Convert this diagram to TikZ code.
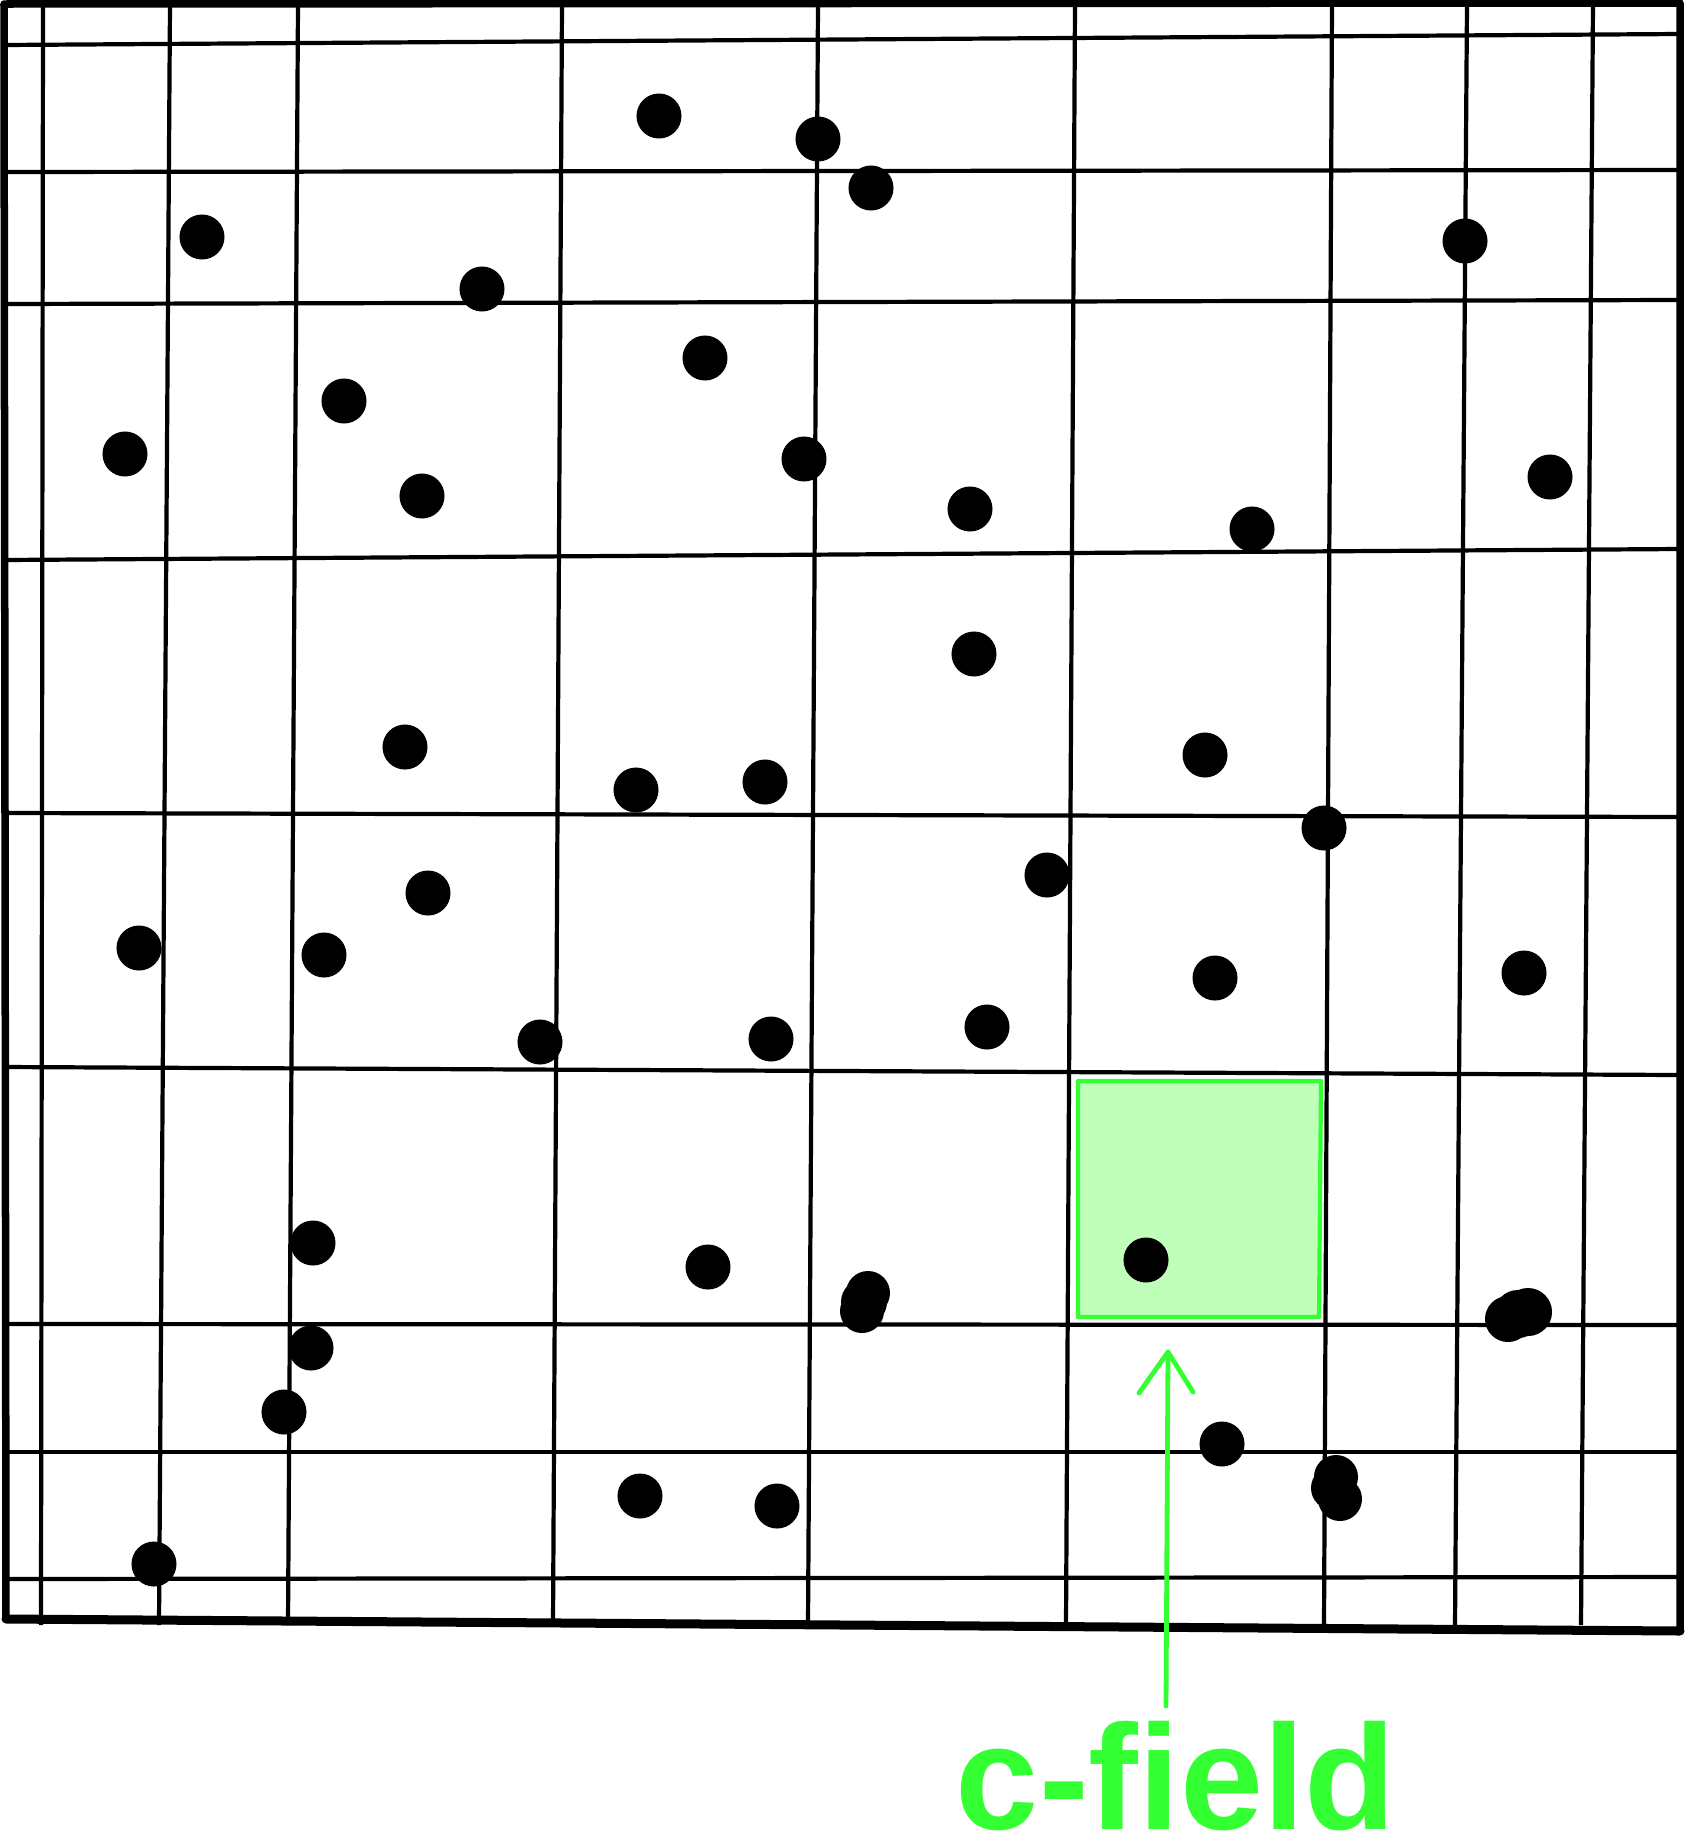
\documentclass[tikz,border=0pt]{standalone}
\usepackage{fontspec}
\setmainfont{Liberation Sans}
\definecolor{gline}{RGB}{51,255,51}
\definecolor{gfill}{RGB}{192,255,186}
\begin{document}
\begin{tikzpicture}[x=0.01cm,y=-0.01cm,
  gridline/.style={line width=0.042cm,black},
  frameline/.style={line width=0.075cm,black,line cap=round,line join=round},
  dotf/.style={fill=black},
  cfield/.style={draw=gline,fill=gfill,line width=0.042cm,line join=round},
  garrow/.style={draw=gline,line width=0.048cm,line cap=round,line join=round},
  lbl/.style={text=gline,font=\bfseries\fontsize{42.5}{50}\selectfont,inner sep=0pt,anchor=base}]
\useasboundingbox (0,0) rectangle (1686,1842);
% vertical grid lines
\foreach \a/\b in {43/41,170/159,298/288,562/553,818/808,1075/1066,1332/1324,1467/1455,1593/1581}
  \draw[gridline] (\a,4) -- (\b,1625);
% horizontal grid lines
\foreach \a/\b in {45/34,172/170,304/300,560/549,813/817,1067/1075,1324/1325,1452/1452,1579/1577}
  \draw[gridline] (4,\a) -- (1680,\b);
% frame
\draw[frameline] (4,4) -- (1680,3) -- (1680,1631) -- (6,1619) -- cycle;
\draw[line width=0.09cm,black,line cap=round] (6,1619) -- (1680,1631);
% green cell
\draw[cfield] (1078,1081) -- (1321,1081) -- (1319,1317) -- (1078,1317) -- cycle;
% dots
\foreach \x/\y in {659/116,818/139,871/188,202/237,482/289,1465/241,705/358,344/401,125/454,422/496,804/459,970/509,1252/529,1550/477,974/654,405/747,1205/755,636/790,765/782,1324/828,1047/875,428/893,139/948,324/955,1215/978,1524/973,540/1042,771/1039,987/1027,313/1243,708/1267,1146/1260,311/1348,284/1412,1222/1444,640/1496,777/1506,154/1564}
  \fill[dotf] (\x,\y) circle[radius=0.225cm];
% blobs
\fill[dotf] (868,1293) circle[radius=0.22cm];
\fill[dotf] (864,1302) circle[radius=0.23cm];
\fill[dotf] (862,1311) circle[radius=0.22cm];
\fill[dotf] (1508,1319) circle[radius=0.23cm];
\fill[dotf] (1528,1312) circle[radius=0.24cm];
\fill[dotf] (1518,1314) circle[radius=0.24cm];
\fill[dotf] (1336,1477) circle[radius=0.22cm];
\fill[dotf] (1340,1499) circle[radius=0.22cm];
\fill[dotf] (1333,1488) circle[radius=0.22cm];
% arrow and label
\node[lbl] (label) at (1176,1829) {c-field};
\coordinate (tail) at (1166,1706);
\coordinate (tip) at (1168,1352);
\coordinate (armL) at (1139,1393);
\coordinate (armR) at (1193,1392);
\draw[garrow] (tail) -- (tip);
\draw[garrow] (armL) -- (tip) -- (armR);
\end{tikzpicture}
\end{document}
